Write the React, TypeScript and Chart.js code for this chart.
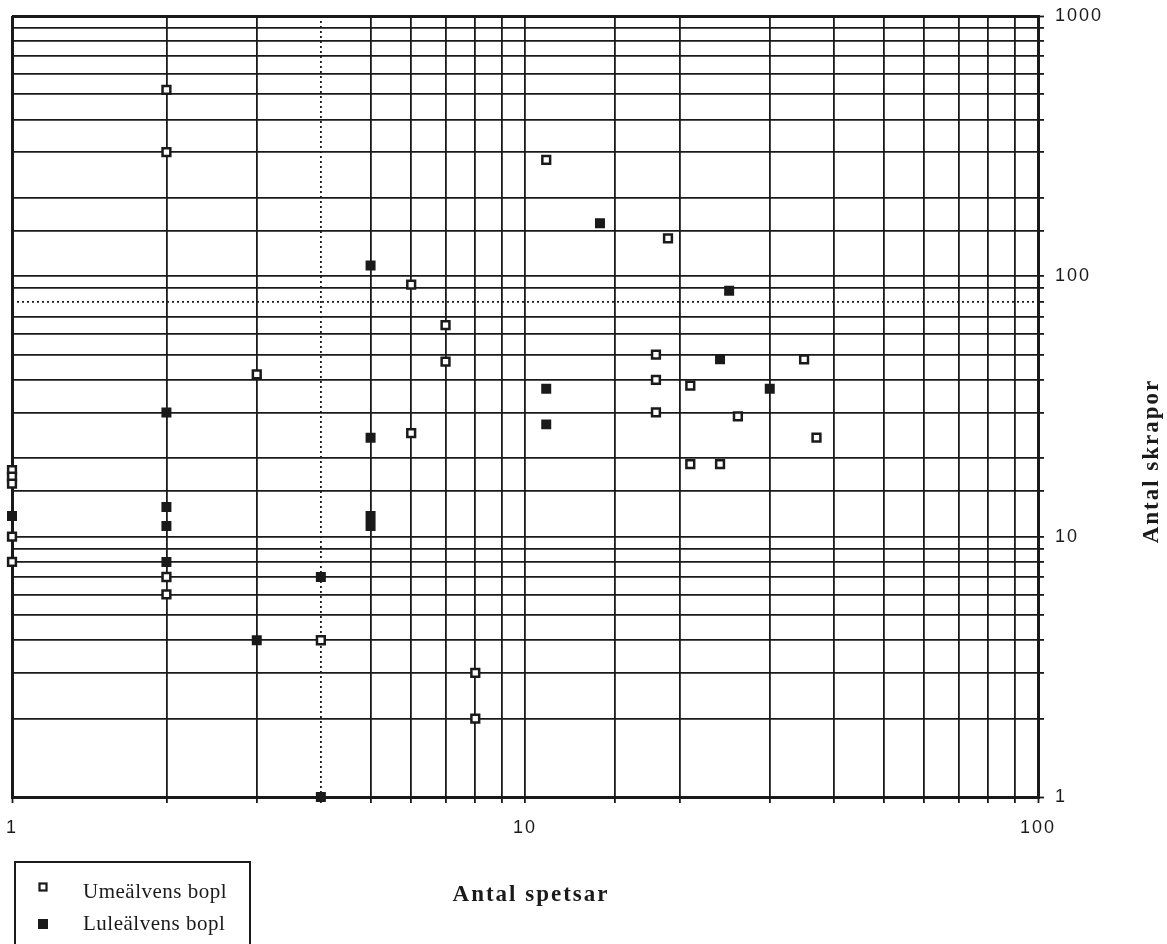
import React, { useEffect, useRef } from 'react';
import { Chart, registerables } from 'chart.js';

Chart.register(...registerables);

// ---- data ----
const umeX = [2, 2, 11, 19, 6, 7, 7, 3, 6, 1, 1, 1, 1, 1, 2, 2, 4, 8, 8, 18, 18, 18, 21, 26, 35, 37, 21, 24];
const umeY = [520, 300, 280, 140, 93, 65, 47, 42, 25, 18, 17, 16, 10, 8, 7, 6, 4, 3, 2, 50, 40, 30, 38, 29, 48, 24, 19, 19];

const luleX = [5, 14, 25, 24, 11, 30, 11, 2, 5, 1, 2, 2, 5, 5, 2, 4, 3, 4];
const luleY = [110, 160, 88, 48, 37, 37, 27, 30, 24, 12, 13, 11, 12, 11, 8, 7, 4, 1];

const seriesNames = ['Umeälvens bopl', 'Luleälvens bopl'];
const xTitle = 'Antal spetsar';
const yTitle = 'Antal skrapor';
const xRange = [1, 100];
const yRange = [1, 1000];

const INK = '#1a1a1a';

const toPoints = (xs: number[], ys: number[]) => xs.map((x, i) => ({ x, y: ys[i] }));
const isDecade = (v: number) => {
  const l = Math.log10(v);
  return Math.abs(l - Math.round(l)) < 1e-9;
};

const overlay = {
  id: 'overlay',
  beforeDraw(chart: any) {
    chart.ctx.letterSpacing = '2px';
  },
  beforeDatasetsDraw(chart: any) {
    chart.ctx.letterSpacing = '0px';
  },
  afterDraw(chart: any) {
    const ctx = chart.ctx as CanvasRenderingContext2D;
    ctx.save();
    ctx.fillStyle = INK;
    ctx.strokeStyle = INK;
    // axis titles
    ctx.letterSpacing = '2px';
    ctx.font = 'bold 23px "Liberation Serif"';
    ctx.textAlign = 'center';
    ctx.textBaseline = 'middle';
    ctx.fillText(xTitle, 531, 895);
    ctx.save();
    ctx.translate(1152, 461);
    ctx.rotate(-Math.PI / 2);
    ctx.fillText(yTitle, 0, 0);
    ctx.restore();
    // legend box
    ctx.letterSpacing = '0.5px';
    ctx.lineWidth = 2;
    ctx.strokeRect(15, 862, 235, 100);
    ctx.font = '21px "Liberation Serif"';
    ctx.textAlign = 'left';
    ctx.fillText(seriesNames[0], 83, 892);
    ctx.fillText(seriesNames[1], 83, 924);
    // legend markers
    ctx.lineWidth = 2.2;
    ctx.fillStyle = '#ffffff';
    ctx.fillRect(39.5, 883.5, 7, 7);
    ctx.strokeRect(39.5, 883.5, 7, 7);
    ctx.fillStyle = INK;
    ctx.fillRect(38, 919, 10, 10);
    ctx.restore();
  },
};

export default function App() {
  const ref = useRef<HTMLCanvasElement | null>(null);

  useEffect(() => {
    if (!ref.current) return;
    const gridWidth = (edgeA: number, edgeB: number) => (c: any) =>
      c.tick && (c.tick.value === edgeA || c.tick.value === edgeB) ? 3 : 1.8;
    const zeroPad = (s: any) => {
      s.paddingLeft = 0;
      s.paddingRight = 0;
      s.paddingTop = 0;
      s.paddingBottom = 0;
    };

    const chart = new Chart(ref.current, {
      type: 'scatter',
      data: {
        datasets: [
          {
            label: seriesNames[0],
            data: toPoints(umeX, umeY),
            pointStyle: 'rect',
            pointRadius: 5.5,
            pointBorderWidth: 2.5,
            pointBackgroundColor: '#ffffff',
            pointBorderColor: INK,
            clip: false,
          },
          {
            label: seriesNames[1],
            data: toPoints(luleX, luleY),
            pointStyle: 'rect',
            pointRadius: 6,
            pointBorderWidth: 1.5,
            pointBackgroundColor: INK,
            pointBorderColor: INK,
            clip: false,
          },
        ],
      },
      options: {
        animation: false,
        responsive: true,
        maintainAspectRatio: false,
        layout: { padding: { left: 12, top: 16, right: 0, bottom: 0 } },
        plugins: {
          legend: { display: false },
          tooltip: { enabled: false },
        },
        scales: {
          x: {
            type: 'logarithmic',
            min: xRange[0],
            max: xRange[1],
            afterFit: (s: any) => {
              s.height = 944 - 797;
              zeroPad(s);
            },
            grid: {
              color: INK,
              lineWidth: gridWidth(xRange[0], xRange[1]),
              drawTicks: true,
              tickLength: 6,
              tickColor: INK,
              tickWidth: 1.8,
            },
            border: {
              display: true,
              width: 3,
              color: INK,
              dash: (c: any) => (c.tick && c.tick.value === 4 ? [2, 3] : []),
            },
            ticks: {
              autoSkip: false,
              maxRotation: 0,
              color: INK,
              padding: 14,
              font: { family: '"Liberation Sans"', size: 18 },
              callback: (v: any) => (isDecade(Number(v)) ? String(v) : ''),
            },
          },
          y: {
            type: 'logarithmic',
            position: 'right',
            min: yRange[0],
            max: yRange[1],
            afterFit: (s: any) => {
              s.width = 1167 - 1038;
              zeroPad(s);
            },
            grid: {
              color: INK,
              lineWidth: gridWidth(yRange[0], yRange[1]),
              drawTicks: true,
              tickLength: 6,
              tickColor: INK,
              tickWidth: 1.8,
            },
            border: {
              display: true,
              width: 3,
              color: INK,
              dash: (c: any) => (c.tick && c.tick.value === 80 ? [2, 3] : []),
            },
            ticks: {
              autoSkip: false,
              color: INK,
              padding: 11,
              font: { family: '"Liberation Sans"', size: 18 },
              callback: (v: any) => (isDecade(Number(v)) ? String(v) : ''),
            },
          },
        },
      },
      plugins: [overlay],
    } as any);
    return () => chart.destroy();
  }, []);

  return (
    <div style={{ position: 'absolute', left: 0, top: 0, width: 1167, height: 944, background: '#ffffff' }}>
      <canvas ref={ref} />
    </div>
  );
}
